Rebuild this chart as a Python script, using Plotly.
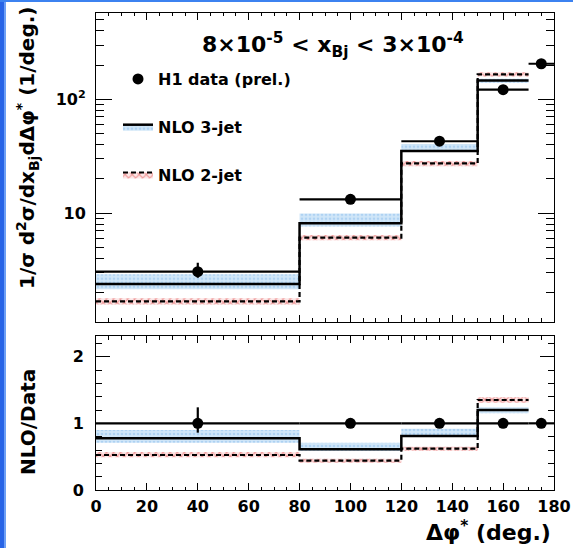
import plotly.graph_objects as go

# ---------------- data ----------------
bin_lo = [0, 80, 120, 150, 170]
bin_hi = [80, 120, 150, 170, 180]
data_x = [40, 100, 135, 160, 175]

# top panel: 1/sigma d2sigma/dxBj dDphi* (1/deg.)
data_y = [3.05, 13.2, 42.8, 121.7, 205.6]
data_err_up = [0.61, 0.5, 1.5, 4.0, 7.0]
data_err_dn = [0.36, 0.5, 1.5, 4.0, 7.0]

nlo_edges = [0, 80, 120, 150, 170]          # NLO given for first four bins
nlo3_y = [2.37, 8.12, 35.2, 146.7]
nlo3_lo = [2.14, 7.6, 34.5, 140.0]
nlo3_hi = [2.9, 9.9, 40.5, 152.0]
nlo2_y = [1.67, 6.07, 27.3, 165.6]
nlo2_lo = [1.57, 5.75, 25.8, 159.0]
nlo2_hi = [1.78, 6.4, 28.7, 173.0]

# bottom panel: NLO / Data
ratio_data = [1.0, 1.0, 1.0, 1.0, 1.0]
ratio_err_up = [0.24, 0.03, 0.03, 0.03, 0.03]
ratio_err_dn = [0.14, 0.03, 0.03, 0.03, 0.03]
r3_y = [0.775, 0.61, 0.81, 1.20]
r3_lo = [0.71, 0.59, 0.81, 1.15]
r3_hi = [0.90, 0.71, 0.92, 1.24]
r2_y = [0.525, 0.44, 0.62, 1.35]
r2_lo = [0.49, 0.41, 0.59, 1.31]
r2_hi = [0.57, 0.47, 0.65, 1.39]

title_text = "8×10<sup>-5</sup> &lt; x<sub>Bj</sub> &lt; 3×10<sup>-4</sup>"
ytitle_top = "1/σ d<sup>2</sup>σ/dx<sub>Bj</sub>dΔφ<sup>*</sup> (1/deg.)"
ytitle_bot = "NLO/Data"
xtitle = "Δφ<sup>*</sup> (deg.)"
legend_names = ["H1 data (prel.)", "NLO 3-jet", "NLO 2-jet"]
log_major = [10, 100]
log_major_text = ["10", "10<sup>2</sup>"]
log_minor = [2, 3, 4, 5, 6, 7, 8, 9, 20, 30, 40, 50, 60, 70, 80, 90, 200, 300, 400, 500]
ratio_ticks = [0, 1, 2]

# ---------------- figure ----------------
W, H = 573, 548
FONT = "DejaVu Sans"
BLUE_BG = "rgb(208,230,248)"
BLUE_FG = "rgb(140,190,235)"
RED_FG = "rgb(225,80,80)"
RED_BG = "rgba(250,215,215,0.6)"

nlo_centers = [(a + b) / 2 for a, b in zip(nlo_edges[:-1], nlo_edges[1:])]
nlo_widths = [b - a for a, b in zip(nlo_edges[:-1], nlo_edges[1:])]
half_w = [(b - a) / 2 for a, b in zip(bin_lo, bin_hi)]

fig = go.Figure()


def add_panel(xa, ya, y3, lo3, hi3, y2, lo2, hi2, dy, eup, edn):
    # bands
    fig.add_trace(go.Bar(
        x=nlo_centers, width=nlo_widths, base=lo3,
        y=[h - l for h, l in zip(hi3, lo3)],
        marker=dict(color=BLUE_BG, line=dict(width=0),
                    pattern=dict(shape=".", fgcolor=BLUE_FG, size=4,
                                 solidity=0.35, fillmode="overlay")),
        xaxis=xa, yaxis=ya, showlegend=False, hoverinfo="skip"))
    fig.add_trace(go.Bar(
        x=nlo_centers, width=nlo_widths, base=lo2,
        y=[h - l for h, l in zip(hi2, lo2)],
        marker=dict(color=RED_BG, line=dict(width=0),
                    pattern=dict(shape="x", fgcolor=RED_FG, size=5,
                                 solidity=0.4, fillmode="overlay")),
        xaxis=xa, yaxis=ya, showlegend=False, hoverinfo="skip"))
    # step lines
    fig.add_trace(go.Scatter(
        x=nlo_edges, y=list(y3) + [y3[-1]], mode="lines",
        line=dict(color="black", width=2.5, shape="hv"),
        xaxis=xa, yaxis=ya, showlegend=False, hoverinfo="skip"))
    fig.add_trace(go.Scatter(
        x=nlo_edges, y=list(y2) + [y2[-1]], mode="lines",
        line=dict(color="black", width=2.2, shape="hv", dash="5px,3px"),
        xaxis=xa, yaxis=ya, showlegend=False, hoverinfo="skip"))
    # data
    fig.add_trace(go.Scatter(
        x=data_x, y=dy, mode="markers",
        marker=dict(color="black", size=11),
        error_x=dict(type="data", array=half_w, arrayminus=half_w,
                     color="black", thickness=2.2, width=0),
        error_y=dict(type="data", array=eup, arrayminus=edn,
                     color="black", thickness=2.2, width=0),
        xaxis=xa, yaxis=ya, showlegend=False, hoverinfo="skip"))


add_panel("x", "y", nlo3_y, nlo3_lo, nlo3_hi, nlo2_y, nlo2_lo, nlo2_hi,
          data_y, data_err_up, data_err_dn)
add_panel("x2", "y2", r3_y, r3_lo, r3_hi, r2_y, r2_lo, r2_hi,
          ratio_data, ratio_err_up, ratio_err_dn)

# legend entries
fig.add_trace(go.Scatter(x=[None], y=[None], mode="markers", name=legend_names[0],
                         marker=dict(color="black", size=11), legendgroup="a"))
fig.add_trace(go.Scatter(x=[None], y=[None], mode="lines", name=legend_names[1],
                         line=dict(color="black", width=2.5), fill="toself",
                         fillcolor=BLUE_BG,
                         fillpattern=dict(shape=".", fgcolor=BLUE_FG, size=4,
                                          solidity=0.35, fillmode="overlay"),
                         legendgroup="b"))
fig.add_trace(go.Scatter(x=[None], y=[None], mode="lines", name=legend_names[2],
                         line=dict(color="black", width=2.2, dash="5px,3px"),
                         fill="toself", fillcolor=RED_BG,
                         fillpattern=dict(shape="x", fgcolor=RED_FG, size=5,
                                          solidity=0.4, fillmode="overlay"),
                         legendgroup="c"))


def px(x):
    return x / W


def py(y):
    return 1 - y / H


tickfont = dict(family=FONT, size=16, color="black", weight="bold")
common_x = dict(range=[0, 180], tick0=0, dtick=20, ticks="inside", ticklen=7,
                tickwidth=1, tickcolor="black", showline=True, linecolor="black",
                linewidth=1, mirror="ticks", showgrid=False, zeroline=False,
                automargin=False,
                minor=dict(dtick=5, ticklen=3.5, ticks="inside", tickcolor="black",
                           showgrid=False),
                domain=[px(96), px(554)], tickfont=tickfont)

fig.update_layout(
    width=W, height=H,
    margin=dict(l=0, r=0, t=0, b=0, autoexpand=False),
    paper_bgcolor="white", plot_bgcolor="white",
    barmode="overlay",
    xaxis=dict(**common_x, anchor="y", showticklabels=False),
    xaxis2=dict(**common_x, anchor="y2", ticklabelstandoff=2),
    yaxis=dict(type="log", range=[0.044, 2.762], domain=[py(321.7), py(12.7)],
               anchor="x", tickmode="array", tickvals=log_major, ticktext=log_major_text,
               ticks="inside", ticklen=16, tickcolor="black", showline=True,
               linecolor="black", linewidth=1, mirror="ticks", showgrid=False,
               zeroline=False, tickfont=tickfont, ticklabelstandoff=6,
               automargin=False,
               minor=dict(tickmode="array", tickvals=log_minor, ticklen=8,
                          ticks="inside", tickcolor="black", showgrid=False)),
    yaxis2=dict(range=[0, 2.31], domain=[py(490), py(336)], anchor="x2",
                tickmode="array", tickvals=ratio_ticks, ticks="inside", ticklen=14,
                tickcolor="black", showline=True, linecolor="black", linewidth=1,
                mirror="ticks", showgrid=False, zeroline=False, tickfont=tickfont,
                ticklabelstandoff=8, automargin=False,
                minor=dict(dtick=0.2, ticklen=6, ticks="inside", tickcolor="black",
                           showgrid=False)),
    legend=dict(x=px(118), y=py(62), xanchor="left", yanchor="top",
                bgcolor="rgba(0,0,0,0)", borderwidth=0, tracegroupgap=24,
                font=dict(family=FONT, size=16, color="black", weight="bold")),
    showlegend=True,
    annotations=[
        dict(text=title_text, x=px(333), y=py(45), xref="paper", yref="paper",
             showarrow=False, xanchor="center", yanchor="middle",
             font=dict(family=FONT, size=22, color="black", weight="bold")),
        dict(text=ytitle_top, x=px(27), y=py(148), xref="paper", yref="paper",
             showarrow=False, textangle=-90, xanchor="center", yanchor="middle",
             font=dict(family=FONT, size=20, color="black", weight="bold")),
        dict(text=ytitle_bot, x=px(28), y=py(422), xref="paper", yref="paper",
             showarrow=False, textangle=-90, xanchor="center", yanchor="middle",
             font=dict(family=FONT, size=20, color="black", weight="bold")),
        dict(text=xtitle, x=px(553), y=py(531), xref="paper", yref="paper",
             showarrow=False, xanchor="right", yanchor="middle",
             font=dict(family=FONT, size=22, color="black", weight="bold")),
    ],
    shapes=[
        dict(type="rect", xref="paper", yref="paper", x0=0, x1=px(4), y0=0, y1=1,
             fillcolor="rgb(40,100,230)", line=dict(width=0), layer="above"),
        dict(type="rect", xref="paper", yref="paper", x0=px(4), x1=px(6), y0=0, y1=1,
             fillcolor="rgb(110,160,245)", line=dict(width=0), layer="above"),
        dict(type="rect", xref="paper", yref="paper", x0=0, x1=1, y0=py(2), y1=1,
             fillcolor="rgb(60,130,240)", line=dict(width=0), layer="above"),
    ],
)

fig.write_html("out.html",
               config={"displayModeBar": False},
               post_script="document.body.style.margin='0';"
                           "document.body.style.overflow='hidden';")
